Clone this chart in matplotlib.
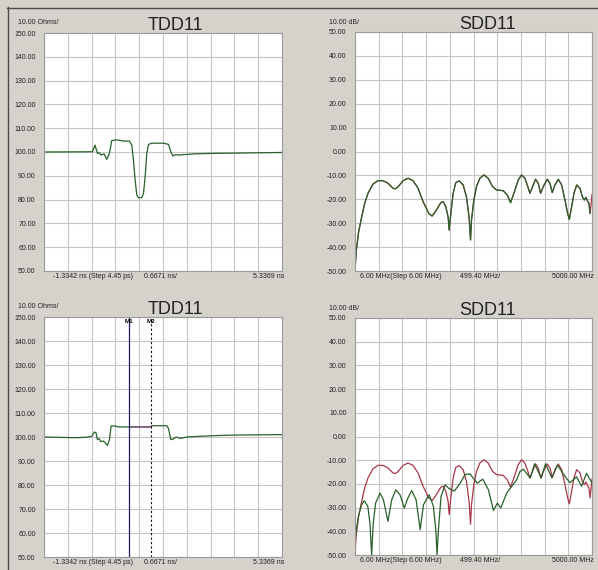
import numpy as np
import matplotlib
matplotlib.use("Agg")
import matplotlib.pyplot as plt
from matplotlib.lines import Line2D

plt.rcParams['font.family'] = ['Liberation Sans', 'DejaVu Sans']

# TDD11 (impedance vs time), upper panel
tdd_top_t = [-1.334, 0.022, 0.097, 0.163, 0.219, 0.266, 0.350, 0.425, 0.500, 0.565,
             0.705, 0.893, 1.061, 1.126, 1.173, 1.220, 1.267, 1.313, 1.407, 1.454,
             1.501, 1.547, 1.594, 1.688, 2.015, 2.156, 2.221, 2.277, 2.343, 2.436,
             2.577, 2.857, 3.325, 5.337]
tdd_top_z = [100.0, 100.1, 102.9, 99.4, 99.7, 98.7, 99.2, 96.9, 99.4, 104.8,
             105.1, 104.6, 104.6, 102.9, 96.6, 88.2, 81.9, 80.8, 80.8, 82.6,
             89.6, 99.4, 103.2, 103.7, 103.7, 103.2, 100.1, 98.3, 98.9, 98.7,
             98.9, 99.2, 99.4, 99.8]

# TDD11, lower panel
tdd_bot_t = [-1.334, -0.464, -0.137, 0.004, 0.079, 0.126, 0.163, 0.210, 0.256, 0.331,
             0.406, 0.443, 0.500, 0.546, 0.659, 0.752, 1.641, 1.688, 2.109, 2.156,
             2.221, 2.296, 2.371, 2.483, 2.670, 3.044, 3.512, 3.980, 5.337]
tdd_bot_z = [100.0, 99.7, 99.9, 100.3, 102.1, 101.7, 98.9, 99.3, 98.1, 98.3,
             97.2, 96.5, 98.9, 104.6, 104.6, 104.2, 104.2, 104.7, 104.7, 103.5,
             98.9, 99.2, 100.0, 99.4, 100.0, 100.3, 100.6, 100.8, 101.0]
marker_m1 = 1.053
marker_m2 = 1.661

# SDD11 reference trace (red)
sdd_ref_f = [6, 34, 83, 140, 210, 280, 386, 491, 597, 702, 808, 857, 913, 1019, 1124,
             1230, 1335, 1441, 1561, 1631, 1722, 1814, 1863, 1919, 1969, 1990, 2025,
             2074, 2130, 2201, 2285, 2355, 2412, 2440, 2461, 2510, 2566, 2637, 2721,
             2813, 2904, 2988, 3129, 3214, 3284, 3354, 3446, 3516, 3586, 3636, 3692,
             3748, 3811, 3868, 3917, 3973, 4058, 4114, 4163, 4219, 4290, 4360, 4430,
             4487, 4522, 4571, 4620, 4677, 4747, 4796, 4838, 4874, 4902, 4937, 4958,
             4979, 5000]
sdd_ref_db = [-49.6, -41.3, -33.6, -28.0, -21.7, -17.5, -13.6, -12.2, -12.2, -13.3, -15.4,
              -15.6, -14.8, -12.2, -11.2, -12.2, -15.4, -21.0, -25.9, -27.0, -24.5, -21.4,
              -21.0, -23.0, -27.5, -32.9, -26.0, -17.5, -13.0, -12.3, -14.0, -19.0, -28.0,
              -37.0, -28.7, -20.3, -14.7, -11.2, -9.8, -11.2, -14.7, -16.1, -16.4, -18.2,
              -21.4, -17.5, -11.9, -9.8, -11.2, -14.0, -17.5, -14.7, -11.6, -13.3, -17.5,
              -14.7, -11.6, -13.3, -17.2, -14.0, -11.6, -14.0, -20.3, -25.9, -28.4, -23.1,
              -17.5, -14.0, -15.4, -18.9, -20.3, -19.2, -20.6, -21.7, -25.9, -22.4, -18.0]

# SDD11 new trace (green), lower panel
sdd_new_f = [6, 76, 146, 201, 276, 321, 356, 391, 440, 535, 605, 700, 780, 865, 955,
             1045, 1120, 1200, 1294, 1379, 1449, 1569, 1659, 1714, 1734, 1764, 1819,
             1904, 1989, 2103, 2228, 2328, 2428, 2583, 2698, 2818, 2922, 3007, 3077,
             3202, 3307, 3412, 3482, 3552, 3697, 3791, 3931, 4021, 4156, 4271, 4401,
             4535, 4675, 4780, 4885, 5000]
sdd_new_db = [-43.5, -33.7, -28.8, -27.1, -29.5, -36.5, -50.0, -36.5, -28.1, -23.9, -26.7,
              -35.8, -26.7, -22.5, -24.6, -30.2, -26.0, -22.8, -26.7, -39.3, -28.8, -24.6,
              -29.5, -40.7, -50.0, -39.3, -25.3, -20.4, -22.0, -23.0, -19.5, -16.0, -15.8,
              -19.7, -18.0, -22.5, -31.2, -28.1, -30.2, -23.9, -21.1, -18.3, -14.8, -13.8,
              -17.5, -11.5, -17.5, -11.5, -17.5, -12.0, -16.0, -19.5, -17.0, -21.0, -15.5,
              -19.7]

green = '#28602a'
red = '#a8384a'
bg = '#d5d2cc'
grid_c = '#c4c4c4'

fig = plt.figure(figsize=(5.98, 5.70), dpi=100, facecolor=bg)
W, H = 598.0, 570.0


def make_axes(x0, y0, x1, y1):
    ax = fig.add_axes([x0 / W, 1 - y1 / H, (x1 - x0) / W, (y1 - y0) / H])
    ax.set_facecolor('white')
    for s in ax.spines.values():
        s.set_color('#9a9a9a')
        s.set_linewidth(0.8)
    return ax


def setup(ax, xlim, ylim, ystep):
    ax.set_xlim(*xlim)
    ax.set_ylim(*ylim)
    ax.set_xticks(np.linspace(xlim[0], xlim[1], 11))
    yt = np.arange(ylim[0], ylim[1] + ystep / 2, ystep)
    ax.set_yticks(yt)
    ax.set_yticklabels(['%.2f' % v for v in yt], fontsize=5.0, color='#222222')
    ax.set_xticklabels([])
    ax.tick_params(length=0, pad=6)
    ax.grid(True, color=grid_c, lw=0.8)
    ax.set_axisbelow(True)


tdd_xlim = (-1.3342, 5.3369)
sdd_xlim = (6.0, 5000.0)

panels = [
    (44, 33, 282, 271),
    (355, 32, 592, 271),
    (44, 317, 282, 557),
    (355, 318, 592, 555),
]

# upper left: TDD11
ax1 = make_axes(*panels[0])
setup(ax1, tdd_xlim, (50, 150), 10)
ax1.plot(tdd_top_t, tdd_top_z, color=green, lw=0.9)

# upper right: SDD11
ax2 = make_axes(*panels[1])
setup(ax2, sdd_xlim, (-50, 50), 10)
ax2.plot(sdd_ref_f, sdd_ref_db, color=red, lw=0.9)
ax2.plot(sdd_ref_f[:-2], sdd_ref_db[:-2], color=green, lw=0.9)

# lower left: TDD11 with markers
ax3 = make_axes(*panels[2])
setup(ax3, tdd_xlim, (50, 150), 10)
ax3.plot(tdd_bot_t, tdd_bot_z, color=green, lw=0.9)
seg_t = [marker_m1] + [t for t in tdd_bot_t if marker_m1 < t < marker_m2] + [marker_m2]
seg_z = np.interp(seg_t, tdd_bot_t, tdd_bot_z)
ax3.plot(seg_t, seg_z, color='#8a4a8a', lw=0.9)
ax3.axvline(marker_m1, color='#1c1c6a', lw=0.9)
ax3.axvline(marker_m2, color='#111111', lw=0.8, ls=(0, (2, 2)))
ax3.text(marker_m1, 149.2, 'M1', fontsize=4.5, fontweight='bold', ha='center', va='top')
ax3.text(marker_m2, 149.2, 'M2', fontsize=4.5, fontweight='bold', ha='center', va='top')

# lower right: SDD11 both traces
ax4 = make_axes(*panels[3])
setup(ax4, sdd_xlim, (-50, 50), 10)
ax4.plot(sdd_ref_f, sdd_ref_db, color=red, lw=0.9)
ax4.plot(sdd_new_f, sdd_new_db, color=green, lw=0.9)

# titles, scale labels and x annotations
titles = ['TDD11', 'SDD11', 'TDD11', 'SDD11']
scales = ['10.00 Ohms/', '10.00 dB/', '10.00 Ohms/', '10.00 dB/']
xl_left = ['-1.3342 ns (Step 4.45 ps)', '6.00 MHz(Step 6.00 MHz)'] * 2
xl_mid = ['0.6671 ns/', '499.40 MHz/'] * 2
xl_right = ['5.3369 ns', '5000.00 MHz'] * 2
title_dx = [12, 14, 12, 14]
left_dx = [9, 5, 9, 5]
mid_dx = [100, 105, 100, 105]

for i, (x0, y0, x1, y1) in enumerate(panels):
    cx = (x0 + x1) / 2 + title_dx[i]
    fig.text(cx / W, 1 - (y0 + 1) / H, titles[i], fontsize=13, ha='center', va='bottom',
             color='#222222')
    fig.text((x0 - 26) / W, 1 - (y0 - 10) / H, scales[i], fontsize=5.0, ha='left',
             va='center', color='#222222')
    ty = 1 - (y1 + 6) / H
    fig.text((x0 + left_dx[i]) / W, ty, xl_left[i], fontsize=5.0, ha='left', va='center',
             color='#222222')
    fig.text((x0 + mid_dx[i]) / W, ty, xl_mid[i], fontsize=5.0, ha='left', va='center',
             color='#222222')
    fig.text((x1 + 2) / W, ty, xl_right[i], fontsize=5.0, ha='right', va='center',
             color='#222222')

# window frame lines
fig.add_artist(Line2D([7 / W, 1], [1 - 7.5 / H, 1 - 7.5 / H], color='#4a4a4a', lw=1.0))
fig.add_artist(Line2D([7.5 / W, 7.5 / W], [0, 1 - 7 / H], color='#4a4a4a', lw=1.0))

fig.savefig('out.png', dpi=100, facecolor=bg)
